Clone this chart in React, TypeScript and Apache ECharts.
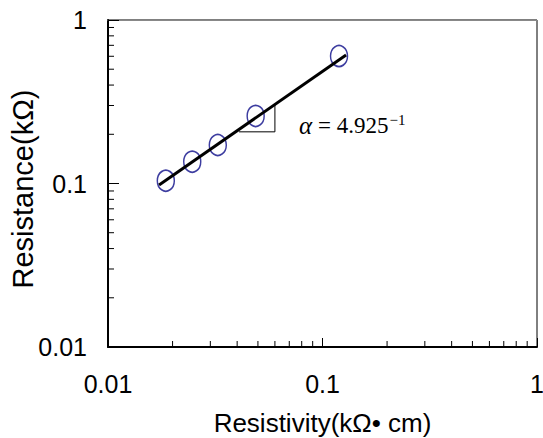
import React, { useEffect, useRef } from "react";
import * as echarts from "echarts";

// Measured points: resistivity (kΩ·cm) vs resistance (kΩ)
const resistivity = [0.0186, 0.0247, 0.0325, 0.0488, 0.1194];
const resistance = [0.104, 0.136, 0.172, 0.259, 0.602];

// Fitted line end points
const fitX = [0.0173, 0.1288];
const fitY = [0.098, 0.611];

// Slope triangle
const triX = [0.0408, 0.06, 0.06];
const triY = [0.207, 0.207, 0.303];

// Axis ranges and ticks
const axisMin = 0.01;
const axisMax = 1;
const tickLabels = ["0.01", "0.1", "1"];
const minorTicks = [
  0.02, 0.03, 0.04, 0.05, 0.06, 0.07, 0.08, 0.09,
  0.2, 0.3, 0.4, 0.5, 0.6, 0.7, 0.8, 0.9,
];

const xName = "Resistivity(kΩ• cm)";
const yName = "Resistance(kΩ)";
const annotation = "= 4.925";
const annotationSup = "−1";

const SANS = '"Liberation Sans", Arial, sans-serif';
const SERIF = '"Liberation Serif", "DejaVu Serif", serif';

function fmt(v: number): string {
  const exp = Math.round(Math.log10(v));
  return tickLabels[exp + 2] ?? String(v);
}

export default function App() {
  const ref = useRef<HTMLDivElement>(null);

  useEffect(() => {
    if (!ref.current) return;
    const chart = echarts.init(ref.current, undefined, { renderer: "svg" });

    const logAxisBase = {
      type: "log" as const,
      logBase: 10,
      min: axisMin,
      max: axisMax,
      splitLine: { show: false },
      minorTick: { show: false },
    };

    chart.setOption({
      animation: false,
      backgroundColor: "#fff",
      grid: {
        left: 108,
        right: 6,
        top: 20,
        bottom: 91,
        containLabel: false,
        outerBoundsMode: "none",
        show: true,
        borderColor: "#000",
        borderWidth: 1,
      },
      xAxis: [
        {
          ...logAxisBase,
          position: "bottom",
          axisLine: { show: true, lineStyle: { color: "#000", width: 2 } },
          axisTick: { show: true, inside: true, length: 9, lineStyle: { color: "#000", width: 1 } },
          axisLabel: {
            formatter: fmt,
            fontFamily: SANS,
            fontSize: 25,
            color: "#000",
            margin: 24,
          },
          name: xName,
          nameLocation: "middle",
          nameGap: 63,
          nameTextStyle: { fontFamily: SANS, fontSize: 26, color: "#000" },
        },
        {
          ...logAxisBase,
          position: "top",
          axisLine: { show: true, lineStyle: { color: "#888", width: 1 } },
          axisTick: { show: false },
          axisLabel: { show: false },
        },
      ],
      yAxis: {
        ...logAxisBase,
        axisLine: { show: true, lineStyle: { color: "#000", width: 2 } },
        axisTick: { show: true, inside: true, length: 11, lineStyle: { color: "#000", width: 1 } },
        axisLabel: {
          formatter: fmt,
          fontFamily: SANS,
          fontSize: 25,
          color: "#000",
          margin: 21,
        },
        name: yName,
        nameLocation: "middle",
        nameGap: 71,
        nameMoveOverlap: false,
        nameTextStyle: { fontFamily: SANS, fontSize: 29, color: "#000", padding: [0, 11, 0, 0] },
      },
      series: [
        {
          type: "custom",
          silent: true,
          xAxisIndex: 0,
          data: minorTicks.map((v) => [v, axisMin]),
          renderItem: (_p: any, api: any) => {
            const pt = api.coord([api.value(0), axisMin]);
            return {
              type: "line",
              shape: { x1: pt[0], y1: pt[1], x2: pt[0], y2: pt[1] - 6 },
              style: { stroke: "#000", lineWidth: 1 },
            };
          },
          z: 5,
        },
        {
          type: "custom",
          silent: true,
          xAxisIndex: 0,
          data: minorTicks.map((v) => [axisMin, v]),
          renderItem: (_p: any, api: any) => {
            const pt = api.coord([axisMin, api.value(1)]);
            return {
              type: "line",
              shape: { x1: pt[0], y1: pt[1], x2: pt[0] + 6, y2: pt[1] },
              style: { stroke: "#000", lineWidth: 1 },
            };
          },
          z: 5,
        },
        {
          type: "line",
          data: triX.map((x, i) => [x, triY[i]]),
          showSymbol: false,
          symbol: "none",
          lineStyle: { color: "#000", width: 1 },
          z: 2,
        },
        {
          type: "scatter",
          data: resistivity.map((x, i) => [x, resistance[i]]),
          symbol: "circle",
          symbolSize: [17, 21],
          itemStyle: {
            color: "rgba(0,0,0,0)",
            borderColor: "#0c0c88",
            borderWidth: 1.6,
          },
          z: 3,
        },
        {
          type: "line",
          data: fitX.map((x, i) => [x, fitY[i]]),
          showSymbol: false,
          symbol: "none",
          lineStyle: { color: "#000", width: 3 },
          z: 4,
        },
      ],
      graphic: [
        {
          type: "text",
          left: 299,
          top: 112,
          style: {
            text: "{a|α}{b|" + annotation + "}{s|" + annotationSup + "}",
            fill: "#000",
            rich: {
              a: { fontStyle: "italic", fontFamily: SERIF, fontSize: 25, lineHeight: 26, fill: "#000", padding: [0, 6, 0, 0] },
              b: { fontFamily: SERIF, fontSize: 23, lineHeight: 26, fill: "#000" },
              s: { fontFamily: SERIF, fontSize: 15, lineHeight: 15, verticalAlign: "top", fill: "#000", padding: [0, 0, 0, 1] },
            },
          },
        },
      ],
    });

    return () => chart.dispose();
  }, []);

  return (
    <div
      ref={ref}
      style={{ position: "fixed", left: 0, top: 0, width: 543, height: 438 }}
    />
  );
}
